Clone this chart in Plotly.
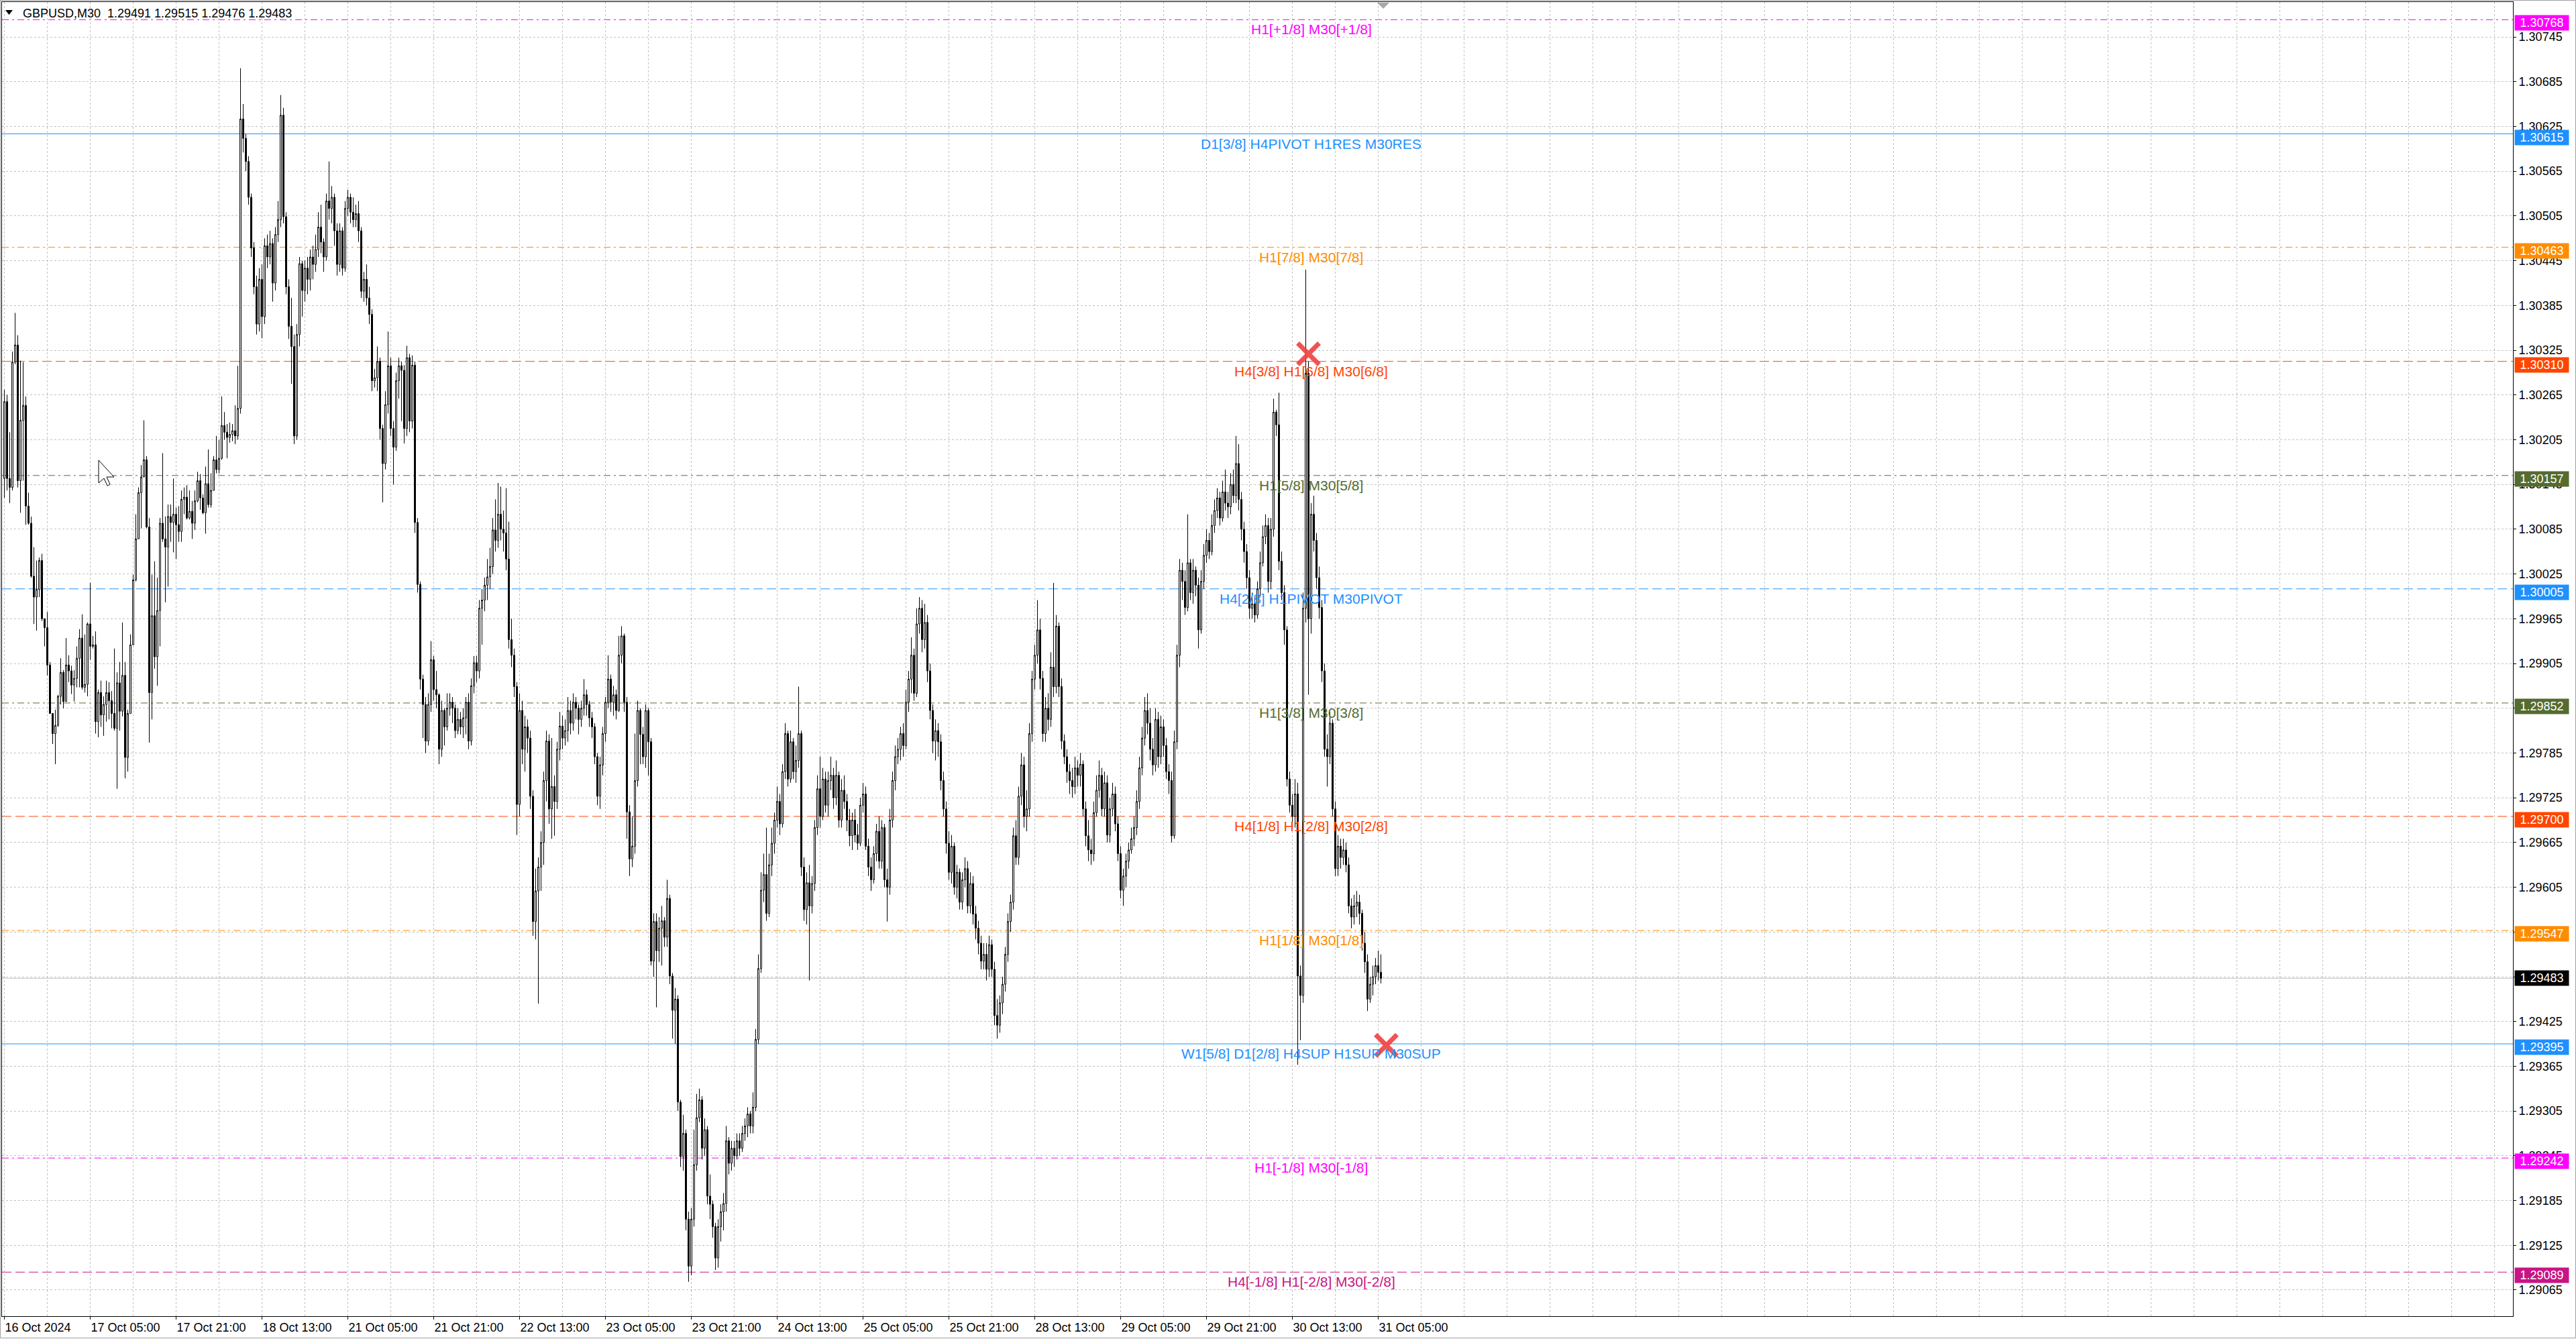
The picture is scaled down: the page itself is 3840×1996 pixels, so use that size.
import plotly.graph_objects as go

# ---------------- data ----------------
symbol = "GBPUSD,M30"
header_ohlc = ["1.29491", "1.29515", "1.29476", "1.29483"]

first_open = 1.30153
closes = [
 1.30256,1.30153,1.30141,1.30309,1.30332,1.30150,1.30231,1.30251,1.30116,1.30093,
 1.30022,1.29994,1.30004,1.30043,1.29965,1.29953,1.29903,1.29838,1.29811,1.29822,
 1.29861,1.29893,1.29854,1.29903,1.29895,1.29876,1.29885,1.29912,1.29939,1.29873,
 1.29877,1.29958,1.29928,1.29930,1.29827,1.29866,1.29836,1.29850,1.29866,1.29855,
 1.29838,1.29818,1.29879,1.29841,1.29889,1.29779,1.29838,1.29930,1.30017,1.30072,
 1.30134,1.30155,1.30178,1.30088,1.29866,1.29969,1.29914,1.29976,1.30093,1.30072,
 1.30061,1.30102,1.30094,1.30105,1.30091,1.30082,1.30125,1.30128,1.30100,1.30109,
 1.30093,1.30123,1.30150,1.30127,1.30107,1.30146,1.30118,1.30137,1.30178,1.30165,
 1.30180,1.30224,1.30215,1.30208,1.30212,1.30217,1.30210,1.30247,1.30635,1.30609,
 1.30578,1.30530,1.30462,1.30410,1.30360,1.30420,1.30370,1.30465,1.30450,1.30468,
 1.30415,1.30480,1.30500,1.30640,1.30504,1.30410,1.30357,1.30330,1.30210,1.30346,
 1.30441,1.30405,1.30435,1.30420,1.30450,1.30440,1.30460,1.30490,1.30470,1.30450,
 1.30525,1.30515,1.30530,1.30485,1.30440,1.30485,1.30435,1.30515,1.30530,1.30510,
 1.30500,1.30508,1.30485,1.30404,1.30420,1.30395,1.30373,1.30284,1.30288,1.30310,
 1.30220,1.30173,1.30252,1.30304,1.30220,1.30195,1.30284,1.30304,1.30298,1.30220,
 1.30315,1.30230,1.30305,1.30094,1.30011,1.29884,1.29850,1.29801,1.29850,1.29910,
 1.29870,1.29863,1.29790,1.29842,1.29820,1.29845,1.29853,1.29845,1.29815,
 1.29830,1.29820,1.29832,1.29853,1.29801,1.29875,1.29906,1.29895,1.29979,1.29990,
 1.30010,1.30021,1.30035,1.30084,1.30070,1.30105,1.30085,1.30080,1.30045,1.29937,
 1.29916,1.29874,1.29716,1.29842,1.29790,1.29820,1.29805,1.29727,1.29559,1.29600,
 1.29632,1.29665,1.29748,1.29801,1.29710,1.29740,1.29720,1.29790,1.29821,1.29805,
 1.29815,1.29842,1.29825,1.29853,1.29845,1.29830,1.29845,1.29863,1.29850,1.29832,
 1.29820,1.29780,1.29727,1.29769,1.29811,1.29853,1.29884,1.29853,1.29863,
 1.29842,1.29916,1.29942,1.29853,1.29706,1.29643,1.29660,1.29748,1.29842,1.29810,
 1.29780,1.29842,1.29800,1.29506,1.29559,1.29520,1.29550,1.29560,1.29538,1.29590,
 1.29486,1.29440,1.29455,1.29317,1.29244,1.29275,1.29160,1.29097,1.29160,1.29233,
 1.29296,1.29320,1.29255,1.29280,1.29191,1.29180,1.29150,1.29108,1.29150,1.29170,
 1.29181,1.29265,1.29235,1.29255,1.29245,1.29265,1.29255,1.29275,1.29285,1.29301,
 1.29285,1.29310,1.29401,1.29496,1.29601,1.29622,1.29570,1.29635,1.29664,1.29695,
 1.29720,1.29690,1.29760,1.29811,1.29750,1.29800,1.29760,1.29775,1.29811,1.29632,
 1.29575,1.29611,1.29580,1.29610,1.29685,1.29737,1.29700,1.29750,1.29715,1.29748,
 1.29755,1.29725,1.29755,1.29695,1.29735,1.29720,1.29695,1.29674,1.29695,
 1.29675,1.29664,1.29715,1.29730,1.29660,1.29632,1.29615,1.29650,1.29680,1.29640,
 1.29685,1.29615,1.29605,1.29695,1.29748,1.29780,1.29790,1.29811,1.29795,1.29853,
 1.29884,1.29916,1.29865,1.29958,1.29979,1.29937,1.29960,1.29895,1.29842,1.29801,
 1.29815,1.29800,1.29748,1.29710,1.29664,1.29625,1.29660,1.29605,1.29625,1.29585,
 1.29615,1.29630,1.29580,1.29610,1.29569,1.29550,1.29530,1.29506,1.29515,1.29495,
 1.29528,1.29495,1.29433,1.29420,1.29450,1.29475,1.29515,1.29559,1.29585,1.29674,
 1.29645,1.29727,1.29769,1.29700,1.29710,1.29811,1.29884,1.29916,1.29950,1.29885,
 1.29811,1.29845,1.29830,1.29900,1.29874,1.29955,1.29874,1.29801,1.29780,1.29760,
 1.29748,1.29740,1.29765,1.29755,1.29770,1.29710,1.29674,1.29655,1.29650,
 1.29705,1.29735,1.29755,1.29710,1.29745,1.29675,1.29710,1.29730,1.29690,1.29650,
 1.29601,1.29620,1.29640,1.29655,1.29670,1.29685,1.29720,1.29765,1.29805,1.29842,
 1.29825,1.29790,1.29769,1.29830,1.29780,1.29820,1.29795,1.29760,1.29748,1.29674,
 1.29800,1.29916,1.30030,1.30015,1.29980,1.30040,1.30000,1.30030,1.30010,1.29950,
 1.30015,1.30050,1.30070,1.30055,1.30090,1.30110,1.30127,1.30100,1.30135,1.30120,
 1.30115,1.30145,1.30130,1.30173,1.30125,1.30085,1.30055,1.30020,1.29979,1.29985,
 1.29970,1.30005,1.30040,1.30075,1.30090,1.30015,1.30085,1.30242,1.30225,1.30042,
 1.30000,1.29950,1.29750,1.29715,1.29700,1.29730,1.29486,1.29460,1.29979,1.30294,
 1.29965,1.30105,1.30070,1.30020,1.29980,1.29895,1.29790,1.29780,1.29825,1.29710,
 1.29630,1.29660,1.29645,1.29655,1.29635,1.29580,1.29565,1.29580,1.29585,1.29570,
 1.29530,1.29505,1.29455,1.29475,1.29485,1.29500,1.29491,1.29483]

highs = [
 1.30272,1.30265,1.30215,1.30323,1.30375,1.30345,1.30311,1.30309,1.30263,1.30134,
 1.30102,1.30061,1.30043,1.30047,1.30052,1.29965,1.29974,1.29907,1.29838,1.29843,
 1.29863,1.29912,1.29896,1.29939,1.29916,1.29902,1.29896,1.29928,1.29951,1.29971,
 1.29944,1.29960,1.30013,1.29942,1.29948,1.29870,1.29882,1.29861,1.29882,1.29880,
 1.29868,1.29925,1.29893,1.29907,1.29960,1.29907,1.29843,1.29944,1.30024,1.30105,
 1.30141,1.30171,1.30231,1.30183,1.30100,1.30024,1.30042,1.30020,1.30100,1.30187,
 1.30102,1.30118,1.30118,1.30153,1.30114,1.30116,1.30137,1.30141,1.30144,1.30137,
 1.30123,1.30137,1.30162,1.30159,1.30132,1.30169,1.30192,1.30160,1.30183,1.30210,
 1.30205,1.30263,1.30242,1.30226,1.30228,1.30226,1.30251,1.30304,1.30703,1.30655,
 1.30615,1.30585,1.30535,1.30470,1.30425,1.30435,1.30440,1.30475,1.30480,1.30485,
 1.30475,1.30490,1.30525,1.30667,1.30650,1.30510,1.30420,1.30395,1.30346,1.30360,
 1.30450,1.30445,1.30445,1.30450,1.30460,1.30465,1.30480,1.30510,1.30520,1.30475,
 1.30535,1.30578,1.30545,1.30535,1.30495,1.30495,1.30490,1.30525,1.30540,1.30535,
 1.30530,1.30520,1.30525,1.30490,1.30430,1.30440,1.30410,1.30380,1.30300,1.30330,
 1.30315,1.30225,1.30270,1.30350,1.30315,1.30230,1.30295,1.30315,1.30310,1.30305,
 1.30331,1.30320,1.30318,1.30310,1.30100,1.30015,1.29890,1.29860,1.29865,1.29935,
 1.29915,1.29895,1.29865,1.29855,1.29845,1.29865,1.29865,1.29860,1.29850,
 1.29845,1.29840,1.29845,1.29860,1.29865,1.29885,1.29915,1.29915,1.29990,1.30005,
 1.30020,1.30045,1.30060,1.30100,1.30125,1.30147,1.30142,1.30110,1.30140,1.30095,
 1.29965,1.29925,1.29880,1.29865,1.29855,1.29835,1.29830,1.29815,1.29735,1.29630,
 1.29645,1.29680,1.29760,1.29815,1.29810,1.29805,1.29755,1.29800,1.29840,1.29835,
 1.29830,1.29860,1.29855,1.29865,1.29860,1.29850,1.29855,1.29884,1.29870,1.29855,
 1.29840,1.29825,1.29785,1.29780,1.29820,1.29860,1.29916,1.29890,1.29875,
 1.29870,1.29942,1.29955,1.29945,1.29860,1.29715,1.29700,1.29811,1.29855,1.29845,
 1.29820,1.29850,1.29845,1.29805,1.29570,1.29570,1.29565,1.29580,1.29565,1.29615,
 1.29595,1.29490,1.29470,1.29460,1.29320,1.29300,1.29280,1.29170,1.29175,1.29280,
 1.29328,1.29335,1.29325,1.29295,1.29285,1.29220,1.29185,1.29155,1.29160,1.29180,
 1.29195,1.29285,1.29270,1.29265,1.29265,1.29275,1.29275,1.29285,1.29295,1.29310,
 1.29305,1.29330,1.29415,1.29515,1.29625,1.29650,1.29685,1.29650,1.29685,1.29705,
 1.29740,1.29730,1.29770,1.29825,1.29815,1.29815,1.29805,1.29795,1.29874,1.29815,
 1.29645,1.29625,1.29635,1.29620,1.29695,1.29755,1.29780,1.29765,1.29760,1.29760,
 1.29780,1.29765,1.29775,1.29760,1.29750,1.29755,1.29730,1.29710,1.29705,
 1.29710,1.29690,1.29725,1.29745,1.29740,1.29670,1.29645,1.29660,1.29690,1.29700,
 1.29695,1.29690,1.29630,1.29710,1.29760,1.29795,1.29805,1.29820,1.29825,1.29870,
 1.29895,1.29940,1.29925,1.29979,1.29994,1.29990,1.29985,1.29970,1.29905,1.29850,
 1.29830,1.29825,1.29810,1.29760,1.29720,1.29680,1.29675,1.29665,1.29635,1.29630,
 1.29625,1.29645,1.29640,1.29625,1.29620,1.29580,1.29560,1.29540,1.29530,1.29530,
 1.29540,1.29535,1.29505,1.29455,1.29460,1.29485,1.29525,1.29570,1.29595,1.29685,
 1.29695,1.29740,1.29785,1.29780,1.29735,1.29825,1.29895,1.29930,1.29990,1.29965,
 1.29895,1.29860,1.29865,1.29920,1.30013,1.29970,1.29960,1.29885,1.29810,1.29790,
 1.29770,1.29765,1.29780,1.29775,1.29785,1.29775,1.29720,1.29695,1.29670,
 1.29720,1.29755,1.29775,1.29765,1.29760,1.29755,1.29725,1.29745,1.29740,1.29700,
 1.29660,1.29630,1.29650,1.29665,1.29685,1.29700,1.29735,1.29780,1.29820,1.29860,
 1.29865,1.29845,1.29805,1.29845,1.29840,1.29835,1.29830,1.29805,1.29770,1.29760,
 1.29815,1.29930,1.30045,1.30040,1.30030,1.30105,1.30045,1.30045,1.30035,1.30020,
 1.30030,1.30065,1.30085,1.30080,1.30105,1.30125,1.30140,1.30135,1.30150,1.30165,
 1.30135,1.30160,1.30165,1.30210,1.30199,1.30135,1.30095,1.30065,1.30030,1.30000,
 1.29995,1.30015,1.30055,1.30090,1.30105,1.30100,1.30100,1.30260,1.30245,1.30268,
 1.30055,1.30010,1.29955,1.29760,1.29730,1.29750,1.29745,1.29500,1.30000,1.30433,
 1.30310,1.30120,1.30130,1.30080,1.30035,1.29990,1.29905,1.29810,1.29840,1.29830,
 1.29720,1.29675,1.29670,1.29670,1.29665,1.29645,1.29590,1.29595,1.29600,1.29595,
 1.29575,1.29545,1.29515,1.29485,1.29500,1.29510,1.29520,1.29515]

lows = [
 1.30127,1.30137,1.30120,1.30137,1.30306,1.30141,1.30107,1.30150,1.30091,1.30091,
 1.30020,1.29958,1.29949,1.29994,1.29962,1.29928,1.29889,1.29838,1.29797,1.29770,
 1.29820,1.29850,1.29845,1.29854,1.29880,1.29864,1.29854,1.29873,1.29873,1.29870,
 1.29866,1.29861,1.29910,1.29925,1.29811,1.29806,1.29820,1.29808,1.29827,1.29830,
 1.29818,1.29815,1.29737,1.29815,1.29834,1.29751,1.29760,1.29838,1.29930,1.30015,
 1.30072,1.30086,1.30155,1.30086,1.29799,1.29830,1.29898,1.29875,1.29928,1.30068,
 1.29987,1.30008,1.30068,1.30054,1.30045,1.30068,1.30068,1.30105,1.30098,1.30098,
 1.30072,1.30084,1.30121,1.30111,1.30105,1.30079,1.30114,1.30114,1.30137,1.30160,
 1.30160,1.30178,1.30205,1.30180,1.30201,1.30203,1.30199,1.30205,1.30240,1.30590,
 1.30565,1.30520,1.30450,1.30400,1.30346,1.30350,1.30341,1.30360,1.30435,1.30440,
 1.30390,1.30405,1.30470,1.30490,1.30495,1.30400,1.30340,1.30280,1.30199,1.30205,
 1.30330,1.30370,1.30390,1.30400,1.30405,1.30420,1.30430,1.30450,1.30455,1.30430,
 1.30445,1.30500,1.30495,1.30465,1.30425,1.30430,1.30425,1.30430,1.30505,1.30495,
 1.30490,1.30490,1.30470,1.30395,1.30390,1.30385,1.30360,1.30270,1.30275,1.30270,
 1.30205,1.30121,1.30165,1.30240,1.30210,1.30145,1.30190,1.30260,1.30230,1.30200,
 1.30210,1.30215,1.30220,1.30080,1.30000,1.29870,1.29805,1.29785,1.29795,1.29840,
 1.29855,1.29845,1.29770,1.29780,1.29795,1.29815,1.29835,1.29825,1.29805,
 1.29810,1.29810,1.29805,1.29810,1.29790,1.29795,1.29865,1.29880,1.29885,1.29930,
 1.29975,1.29990,1.30005,1.30025,1.30055,1.30060,1.30070,1.30055,1.30030,1.29925,
 1.29900,1.29860,1.29675,1.29700,1.29770,1.29760,1.29785,1.29710,1.29540,1.29535,
 1.29449,1.29600,1.29635,1.29720,1.29690,1.29670,1.29674,1.29710,1.29775,1.29790,
 1.29795,1.29800,1.29810,1.29815,1.29830,1.29810,1.29820,1.29835,1.29835,1.29820,
 1.29805,1.29770,1.29715,1.29710,1.29755,1.29800,1.29845,1.29840,1.29835,
 1.29830,1.29840,1.29905,1.29840,1.29670,1.29620,1.29632,1.29650,1.29740,1.29770,
 1.29770,1.29765,1.29755,1.29500,1.29485,1.29444,1.29505,1.29500,1.29525,1.29525,
 1.29475,1.29402,1.29395,1.29305,1.29230,1.29225,1.29145,1.29076,1.29085,1.29150,
 1.29225,1.29290,1.29240,1.29245,1.29180,1.29160,1.29135,1.29092,1.29095,1.29130,
 1.29145,1.29170,1.29220,1.29225,1.29230,1.29240,1.29245,1.29250,1.29265,1.29270,
 1.29275,1.29275,1.29305,1.29395,1.29490,1.29585,1.29560,1.29565,1.29620,1.29650,
 1.29685,1.29675,1.29685,1.29750,1.29740,1.29745,1.29750,1.29745,1.29765,1.29620,
 1.29560,1.29555,1.29480,1.29570,1.29600,1.29675,1.29685,1.29695,1.29705,1.29700,
 1.29735,1.29710,1.29715,1.29685,1.29685,1.29710,1.29680,1.29660,1.29655,
 1.29665,1.29655,1.29660,1.29705,1.29655,1.29620,1.29600,1.29610,1.29640,1.29630,
 1.29630,1.29605,1.29559,1.29595,1.29685,1.29735,1.29770,1.29775,1.29780,1.29790,
 1.29840,1.29865,1.29855,1.29860,1.29945,1.29920,1.29925,1.29880,1.29830,1.29785,
 1.29775,1.29780,1.29735,1.29700,1.29650,1.29615,1.29610,1.29595,1.29590,1.29575,
 1.29575,1.29605,1.29570,1.29570,1.29555,1.29535,1.29515,1.29495,1.29495,1.29480,
 1.29485,1.29485,1.29420,1.29402,1.29410,1.29435,1.29465,1.29505,1.29545,1.29575,
 1.29635,1.29635,1.29715,1.29685,1.29680,1.29700,1.29800,1.29870,1.29905,1.29870,
 1.29800,1.29800,1.29815,1.29820,1.29860,1.29865,1.29860,1.29790,1.29770,1.29745,
 1.29730,1.29725,1.29730,1.29740,1.29740,1.29700,1.29660,1.29640,1.29635,
 1.29640,1.29700,1.29725,1.29700,1.29700,1.29665,1.29665,1.29700,1.29680,1.29640,
 1.29590,1.29580,1.29605,1.29630,1.29650,1.29660,1.29675,1.29710,1.29755,1.29795,
 1.29810,1.29775,1.29755,1.29760,1.29765,1.29770,1.29780,1.29750,1.29730,1.29665,
 1.29670,1.29790,1.29900,1.29990,1.29970,1.29975,1.29990,1.29985,1.29995,1.29925,
 1.29945,1.30005,1.30040,1.30045,1.30050,1.30080,1.30100,1.30090,1.30095,1.30110,
 1.30100,1.30105,1.30120,1.30120,1.30110,1.30070,1.30040,1.30005,1.29965,1.29965,
 1.29960,1.29965,1.29995,1.30035,1.30065,1.30000,1.30005,1.30075,1.30210,1.30030,
 1.29990,1.29930,1.29740,1.29705,1.29685,1.29685,1.29367,1.29400,1.29450,1.29960,
 1.29863,1.29945,1.30055,1.30005,1.29965,1.29880,1.29780,1.29740,1.29770,1.29700,
 1.29620,1.29620,1.29630,1.29635,1.29625,1.29570,1.29550,1.29555,1.29565,1.29555,
 1.29520,1.29490,1.29439,1.29450,1.29460,1.29475,1.29480,1.29476]

time_labels = ["16 Oct 2024", "17 Oct 05:00", "17 Oct 21:00", "18 Oct 13:00",
               "21 Oct 05:00", "21 Oct 21:00", "22 Oct 13:00", "23 Oct 05:00",
               "23 Oct 21:00", "24 Oct 13:00", "25 Oct 05:00", "25 Oct 21:00",
               "28 Oct 13:00", "29 Oct 05:00", "29 Oct 21:00", "30 Oct 13:00",
               "31 Oct 05:00"]
bars_per_label = 32

y_ticks = [1.30745, 1.30685, 1.30625, 1.30565, 1.30505, 1.30445, 1.30385, 1.30325,
           1.30265, 1.30205, 1.30145, 1.30085, 1.30025, 1.29965, 1.29905, 1.29845,
           1.29785, 1.29725, 1.29665, 1.29605, 1.29545, 1.29485, 1.29425, 1.29365,
           1.29305, 1.29245, 1.29185, 1.29125, 1.29065]

levels = [1.30768, 1.30615, 1.30463, 1.30310, 1.30157, 1.30005,
          1.29852, 1.29700, 1.29547, 1.29395, 1.29242, 1.29089]
level_names = ["H1[+1/8] M30[+1/8]", "D1[3/8] H4PIVOT H1RES M30RES",
               "H1[7/8] M30[7/8]", "H4[3/8] H1[6/8] M30[6/8]",
               "H1[5/8] M30[5/8]", "H4[2/8] H1PIVOT M30PIVOT",
               "H1[3/8] M30[3/8]", "H4[1/8] H1[2/8] M30[2/8]",
               "H1[1/8] M30[1/8]", "W1[5/8] D1[2/8] H4SUP H1SUP M30SUP",
               "H1[-1/8] M30[-1/8]", "H4[-1/8] H1[-2/8] M30[-2/8]"]
level_colors = ["#ff00ff", "#1e90ff", "#ff8c00", "#ff4500", "#556b2f", "#1e90ff",
                "#556b2f", "#ff4500", "#ff8c00", "#1e90ff", "#ff00ff", "#c71585"]
DASH = "14px,6px"
DASHDOT = "10px,5px,3px,5px"
level_dash = [DASHDOT, "solid", DASHDOT, DASH, DASHDOT, DASH,
              DASHDOT, DASH, DASHDOT, "solid", DASHDOT, DASH]
label_bar = 487

current_price = 1.29483

signal_x = [486, 515]
signal_y = [1.30320, 1.29393]

# ---------------- geometry ----------------
W, H = 3840, 1996
ML, MR, MT, MB = 3, 94, 3, 34
PW, PH = W - ML - MR, H - MT - MB
BAR_PX = 4.0
x0 = -3.5 / BAR_PX
x1 = x0 + PW / BAR_PX
y_lo, y_hi = 1.2902992, 1.3079177

def px(xp):
    return (xp - ML) / PW

def py(yp):
    return (H - MB - yp) / PH

FONT = "Liberation Sans, Arial, sans-serif"

idx = list(range(len(closes)))
opens = [first_open] + closes[:-1]

fig = go.Figure()
fig.add_trace(go.Candlestick(
    x=idx, open=opens, high=highs, low=lows, close=closes,
    increasing=dict(line=dict(color="black", width=1), fillcolor="white"),
    decreasing=dict(line=dict(color="black", width=1), fillcolor="black"),
    whiskerwidth=0, showlegend=False, hoverinfo="skip"))

fig.add_trace(go.Scatter(
    x=signal_x, y=signal_y, mode="markers", showlegend=False, hoverinfo="skip",
    marker=dict(symbol="x-thin", size=32, color="#ee4444",
                line=dict(width=7, color="rgba(238,64,64,0.9)"))))

shapes = []
annotations = []

for lv, name, col, dsh in zip(levels, level_names, level_colors, level_dash):
    shapes.append(dict(type="line", xref="paper", yref="y", x0=0, x1=1, y0=lv, y1=lv,
                       line=dict(color=col, width=1, dash=dsh), layer="below"))
    annotations.append(dict(x=label_bar, y=lv, xref="x", yref="y", text=name,
                            showarrow=False, xanchor="center", yanchor="top", yshift=-1,
                            font=dict(family=FONT, size=21, color=col)))
    annotations.append(dict(x=1, y=lv, xref="paper", yref="y", text=f"{lv:.5f}",
                            showarrow=False, xanchor="left", yanchor="middle",
                            xshift=2, yshift=-5, width=80, height=22, align="center",
                            bgcolor=col, borderpad=0,
                            font=dict(family=FONT, size=18, color="white")))

shapes.append(dict(type="line", xref="paper", yref="y", x0=0, x1=1,
                   y0=current_price, y1=current_price,
                   line=dict(color="#c0c0c0", width=1), layer="below"))
annotations.append(dict(x=1, y=current_price, xref="paper", yref="y",
                        text=f"{current_price:.5f}", showarrow=False,
                        xanchor="left", yanchor="middle", xshift=2, width=80, height=22,
                        align="center", bgcolor="black", borderpad=0,
                        font=dict(family=FONT, size=18, color="white")))

annotations.append(dict(x=px(32), y=py(20), xref="paper", yref="paper",
                        text=symbol + "\u00a0\u00a0" + " ".join(header_ohlc),
                        showarrow=False, xanchor="left", yanchor="middle",
                        font=dict(family=FONT, size=18, color="black")))
shapes.append(dict(type="path", xref="paper", yref="paper",
                   path=f"M {px(8)} {py(15)} L {px(19)} {py(15)} L {px(13.5)} {py(22)} Z",
                   fillcolor="black", line=dict(width=0)))
shapes.append(dict(type="path", xref="paper", yref="paper",
                   path=f"M {px(2053)} {py(4)} L {px(2071)} {py(4)} L {px(2062)} {py(13)} Z",
                   fillcolor="#a8a8a8", line=dict(width=0)))
cur = [(0, 0), (0, 34), (8, 27), (13, 38), (17, 36), (12, 25), (23, 25)]
cx, cy = 147, 686
cpath = "M " + " L ".join(f"{px(cx + a)} {py(cy + b)}" for a, b in cur) + " Z"
shapes.append(dict(type="path", xref="paper", yref="paper", path=cpath,
                   fillcolor="white", line=dict(color="black", width=1)))
shapes.append(dict(type="rect", xref="paper", yref="paper",
                   x0=px(0.5), x1=px(3839.5), y0=py(1994.5), y1=py(0.5),
                   line=dict(color="#a0a0a0", width=1), fillcolor="rgba(0,0,0,0)"))

tick_pos = [i * bars_per_label for i in range(len(time_labels))]

fig.update_layout(
    width=W, height=H,
    margin=dict(l=ML, r=MR, t=MT, b=MB, pad=0),
    paper_bgcolor="white", plot_bgcolor="white",
    showlegend=False, boxgap=0.5, boxgroupgap=0,
    shapes=shapes, annotations=annotations,
    xaxis=dict(range=[x0, x1], rangeslider=dict(visible=False),
               tickmode="array", tickvals=tick_pos, ticktext=time_labels,
               ticks="outside", ticklen=4, tickcolor="black",
               ticklabelposition="outside right",
               tickfont=dict(family=FONT, size=18, color="black"),
               showgrid=True, gridcolor="#c0c0c0", griddash="3px,3px", gridwidth=1,
               minor=dict(tick0=0, dtick=16, showgrid=True, gridcolor="#c0c0c0",
                          griddash="3px,3px", ticks=""),
               showline=True, linecolor="black", linewidth=1, mirror=True,
               zeroline=False, fixedrange=True),
    yaxis=dict(range=[y_lo, y_hi], side="right",
               tickmode="array", tickvals=y_ticks,
               ticktext=[f"{v:.5f}" for v in y_ticks],
               ticks="outside", ticklen=4, tickcolor="black",
               tickfont=dict(family=FONT, size=18, color="black"),
               showgrid=True, gridcolor="#c0c0c0", griddash="3px,3px", gridwidth=1,
               showline=True, linecolor="black", linewidth=1, mirror=True,
               zeroline=False, fixedrange=True),
)

fig.write_html("out.html", include_plotlyjs=True,
               config=dict(displayModeBar=False, staticPlot=True),
               post_script="document.body.style.margin='0';document.body.style.overflow='hidden';")
